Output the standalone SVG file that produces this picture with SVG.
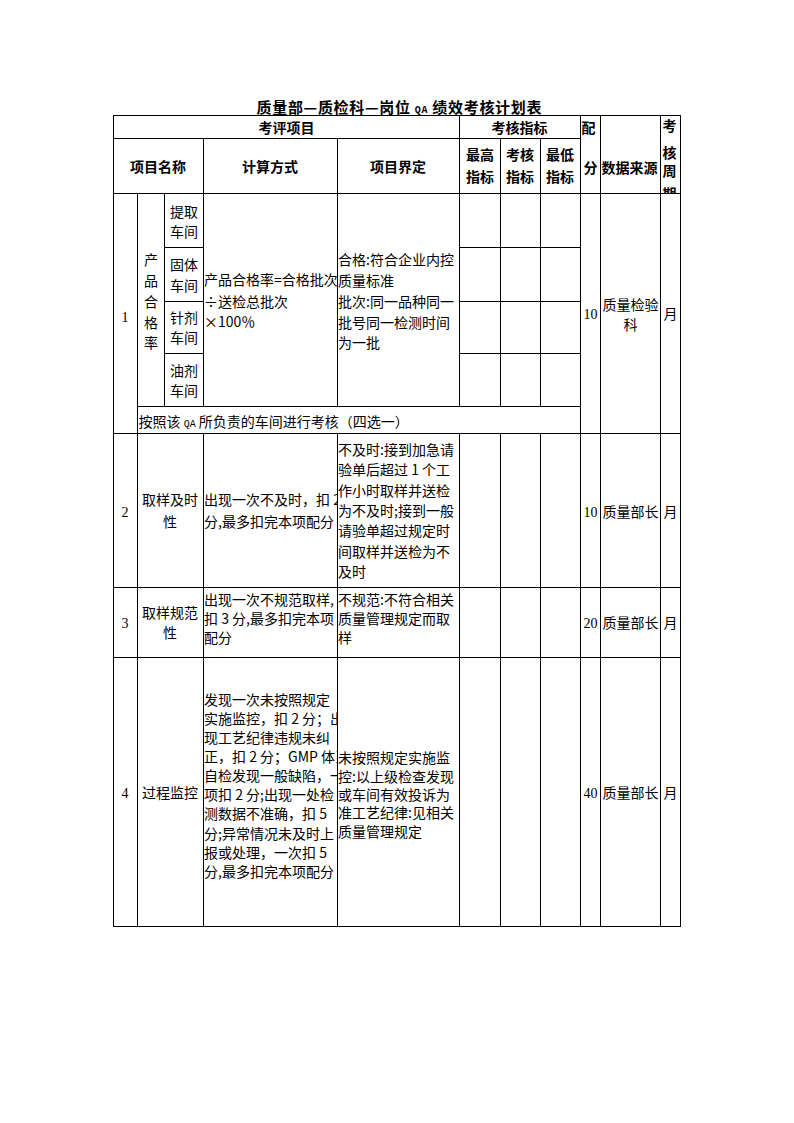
<svg xmlns="http://www.w3.org/2000/svg" width="794" height="1123" viewBox="0 0 794 1123">
<style>
.t{font-family:"Noto Sans CJK SC","Noto Sans CJK JP",sans-serif;font-size:14px;fill:#000}
.h{font-family:"Noto Sans CJK SC","Noto Sans CJK JP",sans-serif;font-size:14px;font-weight:700;fill:#000}
.ti{font-family:"Noto Sans CJK SC","Noto Sans CJK JP",sans-serif;font-size:15px;font-weight:700;fill:#000}
.n{font-family:"Liberation Serif",serif;font-size:14px;fill:#000}
.m{text-anchor:middle}
.ln{stroke:#000;stroke-width:1;fill:none}
.sm{font-family:"Liberation Mono",monospace;font-size:10px}
</style>
<defs>
<clipPath id="cCalc"><rect x="204" y="0" width="133" height="1123"/></clipPath>
<clipPath id="cDef"><rect x="338" y="0" width="121" height="1123"/></clipPath>
<clipPath id="cPer"><rect x="661" y="116" width="19" height="77"/></clipPath>
</defs>
<rect width="794" height="1123" fill="#fff"/>
<text id="title" class="ti" x="256.5" y="113" textLength="285" lengthAdjust="spacing">质量部—质检科—岗位 <tspan class="sm" font-weight="700" font-size="12px">QA</tspan> 绩效考核计划表</text>

<g id="table-lines" class="ln">
<path d="M113 115.5H681M113 138.5H580M113 193.5H681M164 247.5H203M164 301.5H203M164 353.5H203M459 247.5H580M459 301.5H580M459 353.5H580M137 406.5H580M113 433.5H681M113 587.5H681M113 657.5H681M113 926.5H681"/>
<path d="M113.5 115V927M137.5 193V927M164.5 193V407M203.5 138V407M203.5 433V927M337.5 138V407M337.5 433V927M459.5 115V407M459.5 433V927M500.5 138V407M500.5 433V927M540.5 138V407M540.5 433V927M580.5 115V927M600.5 115V927M660.5 115V927M680.5 115V927"/>
</g>

<g id="header">
<text class="h m" x="286.5" y="133">考评项目</text>
<text class="h m" x="519.5" y="133">考核指标</text>
<text class="h m" x="158" y="171.5">项目名称</text>
<text class="h m" x="270" y="171.5">计算方式</text>
<text class="h m" x="398" y="171.5">项目界定</text>
<text class="h m" x="480" y="160">最高</text><text class="h m" x="480" y="181.7">指标</text>
<text class="h m" x="520" y="160">考核</text><text class="h m" x="520" y="181.7">指标</text>
<text class="h m" x="560" y="160">最低</text><text class="h m" x="560" y="181.7">指标</text>
<text class="h m" x="588.5" y="133.3">配</text>
<text class="h m" x="590.5" y="173">分</text>
<text class="h" x="601.5" y="173">数据来源</text>
<g clip-path="url(#cPer)">
<text class="h m" x="669.5" y="130.5">考</text>
<text class="h m" x="669.5" y="158">核</text>
<text class="h m" x="669.5" y="176">周</text>
<text class="h m" x="669.5" y="199">期</text>
</g>
</g>

<g id="row1">
<text class="n m" x="125" y="321.5">1</text>
<text class="t m" x="151" y="265.3">产</text>
<text class="t m" x="151" y="286">品</text>
<text class="t m" x="151" y="306.8">合</text>
<text class="t m" x="151" y="327.5">格</text>
<text class="t m" x="151" y="348.3">率</text>
<text class="t m" x="184" y="216.7">提取</text><text class="t m" x="184" y="236.7">车间</text>
<text class="t m" x="184" y="270">固体</text><text class="t m" x="184" y="290.7">车间</text>
<text class="t m" x="184" y="322.7">针剂</text><text class="t m" x="184" y="342.7">车间</text>
<text class="t m" x="184" y="376">油剂</text><text class="t m" x="184" y="396">车间</text>
<g clip-path="url(#cCalc)">
<text class="t" x="204" y="285">产品合格率=合格批次</text>
<text class="t" x="204" y="306.7">÷送检总批次</text>
<text class="t" x="204" y="326.7">×100％</text>
</g>
<g clip-path="url(#cDef)">
<text class="t" x="338" y="265.3">合格:符合企业内控</text>
<text class="t" x="338" y="286">质量标准</text>
<text class="t" x="338" y="306.8">批次:同一品种同一</text>
<text class="t" x="338" y="327.5">批号同一检测时间</text>
<text class="t" x="338" y="348.3">为一批</text>
</g>
<text class="t" x="138.5" y="426.7">按照该 <tspan class="sm">QA</tspan> 所负责的车间进行考核（四选一）</text>
<text class="n m" x="590.5" y="319">10</text>
<text class="t m" x="630.5" y="310">质量检验</text>
<text class="t m" x="630.5" y="330">科</text>
<text class="t m" x="670.5" y="319">月</text>
</g>

<g id="row2">
<text class="n m" x="125" y="517.3">2</text>
<text class="t m" x="170" y="505">取样及时</text>
<text class="t m" x="170" y="526.7">性</text>
<g clip-path="url(#cCalc)">
<text class="t" x="204" y="505">出现一次不及时，扣 2</text>
<text class="t" x="204" y="526.7">分,最多扣完本项配分</text>
</g>
<g clip-path="url(#cDef)">
<text class="t" x="338" y="455">不及时:接到加急请</text>
<text class="t" x="338" y="475.3">验单后超过 1 个工</text>
<text class="t" x="338" y="495.6">作小时取样并送检</text>
<text class="t" x="338" y="515.9">为不及时;接到一般</text>
<text class="t" x="338" y="536.2">请验单超过规定时</text>
<text class="t" x="338" y="556.5">间取样并送检为不</text>
<text class="t" x="338" y="576.8">及时</text>
</g>
<text class="n m" x="590.5" y="517.3">10</text>
<text class="t m" x="630.5" y="517.3">质量部长</text>
<text class="t m" x="670.5" y="517.3">月</text>
</g>

<g id="row3">
<text class="n m" x="125" y="628.3">3</text>
<text class="t m" x="170" y="618.3">取样规范</text>
<text class="t m" x="170" y="638.3">性</text>
<g clip-path="url(#cCalc)">
<text class="t" x="204" y="605">出现一次不规范取样,</text>
<text class="t" x="204" y="624">扣 3 分,最多扣完本项</text>
<text class="t" x="204" y="643">配分</text>
</g>
<g clip-path="url(#cDef)">
<text class="t" x="338" y="605">不规范:不符合相关</text>
<text class="t" x="338" y="624">质量管理规定而取</text>
<text class="t" x="338" y="643">样</text>
</g>
<text class="n m" x="590.5" y="628.3">20</text>
<text class="t m" x="630.5" y="628.3">质量部长</text>
<text class="t m" x="670.5" y="628.3">月</text>
</g>

<g id="row4">
<text class="n m" x="125" y="798.3">4</text>
<text class="t m" x="170" y="798.3">过程监控</text>
<g clip-path="url(#cCalc)">
<text class="t" x="204" y="705">发现一次未按照规定</text>
<text class="t" x="204" y="724.1">实施监控，扣 2 分；出</text>
<text class="t" x="204" y="743.1">现工艺纪律违规未纠</text>
<text class="t" x="204" y="762.2">正，扣 2 分；GMP 体系</text>
<text class="t" x="204" y="781.3">自检发现一般缺陷，一</text>
<text class="t" x="204" y="800.4">项扣 2 分;出现一处检</text>
<text class="t" x="204" y="819.4">测数据不准确，扣 5</text>
<text class="t" x="204" y="838.5">分;异常情况未及时上</text>
<text class="t" x="204" y="857.6">报或处理，一次扣 5</text>
<text class="t" x="204" y="876.7">分,最多扣完本项配分</text>
</g>
<g clip-path="url(#cDef)">
<text class="t" x="338" y="763.3">未按照规定实施监</text>
<text class="t" x="338" y="781.7">控:以上级检查发现</text>
<text class="t" x="338" y="800">或车间有效投诉为</text>
<text class="t" x="338" y="818.4">准工艺纪律:见相关</text>
<text class="t" x="338" y="836.7">质量管理规定</text>
</g>
<text class="n m" x="590.5" y="798.3">40</text>
<text class="t m" x="630.5" y="798.3">质量部长</text>
<text class="t m" x="670.5" y="798.3">月</text>
</g>
</svg>
